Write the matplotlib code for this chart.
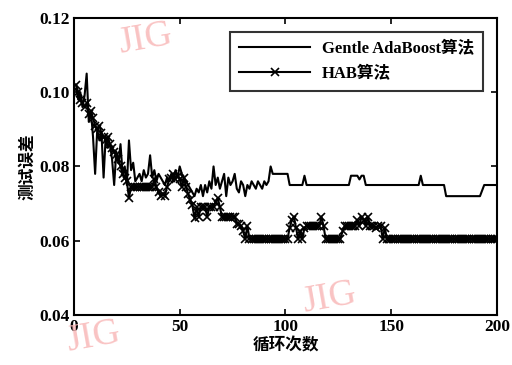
import numpy as np
import matplotlib.pyplot as plt

plt.rcParams['font.family'] = ['Liberation Serif', 'Noto Sans CJK SC']
plt.rcParams['font.weight'] = 'bold'

# x = 1..200
rounds = np.arange(1, 201)

gentle = [
    0.101, 0.098, 0.100, 0.096, 0.099, 0.105, 0.092, 0.095, 0.088, 0.078,
    0.090, 0.087, 0.089, 0.077, 0.088, 0.085, 0.086, 0.082, 0.075, 0.084,
    0.081, 0.086, 0.078, 0.080, 0.075, 0.087, 0.079, 0.081, 0.076, 0.077,
    0.078, 0.076, 0.079, 0.077, 0.078, 0.083, 0.077, 0.079, 0.076, 0.078,
    0.077, 0.076, 0.075, 0.077, 0.076, 0.078, 0.076, 0.079, 0.077, 0.080,
    0.078, 0.077, 0.076, 0.075, 0.074, 0.073, 0.072, 0.074, 0.073, 0.075,
    0.072, 0.075, 0.073, 0.076, 0.074, 0.080, 0.075, 0.077, 0.074, 0.076,
    0.078, 0.072, 0.077, 0.075, 0.076, 0.078, 0.074, 0.073, 0.076, 0.075,
    0.072, 0.075, 0.074, 0.076, 0.075, 0.074, 0.076, 0.075, 0.074, 0.076,
    0.075, 0.076, 0.080, 0.078, 0.078, 0.078, 0.078, 0.078, 0.078, 0.078,
    0.078, 0.075, 0.075, 0.075, 0.075, 0.075, 0.075, 0.075, 0.0775, 0.075,
    0.075, 0.075, 0.075, 0.075, 0.075, 0.075, 0.075, 0.075, 0.075, 0.075,
    0.075, 0.075, 0.075, 0.075, 0.075, 0.075, 0.075, 0.075, 0.075, 0.075,
    0.0775, 0.0775, 0.0775, 0.0775, 0.0765, 0.0775, 0.0775, 0.075, 0.075, 0.075,
    0.075, 0.075, 0.075, 0.075, 0.075, 0.075, 0.075, 0.075, 0.075, 0.075,
    0.075, 0.075, 0.075, 0.075, 0.075, 0.075, 0.075, 0.075, 0.075, 0.075,
    0.075, 0.075, 0.075, 0.0775, 0.075, 0.075, 0.075, 0.075, 0.075, 0.075,
    0.075, 0.075, 0.075, 0.075, 0.075, 0.072, 0.072, 0.072, 0.072, 0.072,
    0.072, 0.072, 0.072, 0.072, 0.072, 0.072, 0.072, 0.072, 0.072, 0.072,
    0.072, 0.072, 0.0735, 0.075, 0.075, 0.075, 0.075, 0.075, 0.075, 0.075,
]

hab = [
    0.102, 0.100, 0.098, 0.097, 0.096, 0.097, 0.094, 0.095, 0.093, 0.091,
    0.090, 0.091, 0.089, 0.088, 0.087, 0.088, 0.086, 0.085, 0.084, 0.083,
    0.082, 0.080, 0.078, 0.077, 0.076, 0.0715, 0.0745, 0.0745, 0.0745, 0.0745,
    0.0745, 0.0745, 0.0745, 0.0745, 0.0745, 0.0745, 0.0745, 0.0765, 0.0745, 0.073,
    0.072, 0.0725, 0.072, 0.0745, 0.0765, 0.077, 0.078, 0.0765, 0.0775, 0.0765,
    0.0745, 0.077, 0.0745, 0.0725, 0.071, 0.0695, 0.066, 0.069, 0.0665, 0.069,
    0.069, 0.069, 0.0665, 0.069, 0.069, 0.069, 0.0705, 0.0715, 0.069, 0.0665,
    0.0665, 0.0665, 0.0665, 0.0665, 0.0665, 0.0665, 0.0645, 0.0645, 0.064, 0.0625,
    0.0605, 0.064, 0.0605, 0.0605, 0.0605, 0.0605, 0.0605, 0.0605, 0.0605, 0.0605,
    0.0605, 0.0605, 0.0605, 0.0605, 0.0605, 0.0605, 0.0605, 0.0605, 0.0605, 0.0605,
    0.0605, 0.0635, 0.0655, 0.0665, 0.0635, 0.0605, 0.0625, 0.0605, 0.0635, 0.064,
    0.064, 0.064, 0.064, 0.064, 0.064, 0.064, 0.0665, 0.064, 0.0605, 0.0605,
    0.0605, 0.0605, 0.0605, 0.0605, 0.0605, 0.0605, 0.0625, 0.064, 0.064, 0.064,
    0.064, 0.064, 0.064, 0.0655, 0.064, 0.0665, 0.0655, 0.064, 0.0665, 0.064,
    0.064, 0.064, 0.0635, 0.064, 0.064, 0.0605, 0.0635, 0.0605, 0.0605, 0.0605,
] + [0.0605] * 50

xticks = [0, 50, 100, 150, 200]
yticks = [0.04, 0.06, 0.08, 0.10, 0.12]

fig = plt.figure(figsize=(5.12, 3.65), dpi=100)
ax = fig.add_axes([0.1445, 0.137, 0.826, 0.814])

ax.plot(rounds, gentle, color='black', lw=1.5, label='Gentle AdaBoost算法')
ax.plot(rounds, hab, color='black', lw=1.5, marker='x', ms=6, mew=1.2,
        label='HAB算法')

ax.set_xlim(0, 200)
ax.set_ylim(0.04, 0.12)
ax.set_xticks(xticks)
ax.set_yticks(yticks)
ax.set_yticklabels([f'{v:.2f}' for v in yticks])
ax.tick_params(direction='in', top=True, right=True, labelsize=12.5, length=4,
               width=1.2, pad=3)
for s in ax.spines.values():
    s.set_linewidth(1.5)

ax.set_xlabel('循环次数', fontsize=12, labelpad=1,
              family=['Noto Sans CJK SC'], weight='bold')
ax.set_ylabel('测试误差', fontsize=12, labelpad=2,
              family=['Noto Sans CJK SC'], weight='bold')

leg = ax.legend(loc='upper right', bbox_to_anchor=(0.988, 0.982),
                fontsize=12, handlelength=4.3, frameon=True, fancybox=False,
                edgecolor='black', borderpad=0.55, labelspacing=0.55,
                handletextpad=0.7)
leg.get_frame().set_linewidth(1.5)

# watermark
for x, y in [(0.225, 0.855), (0.585, 0.145), (0.125, 0.04)]:
    fig.text(x, y, 'JIG', color='#f8b4b4', fontsize=27, rotation=10,
             weight='normal', family=['Liberation Serif'], alpha=0.8)

fig.savefig('out.png', dpi=100)
